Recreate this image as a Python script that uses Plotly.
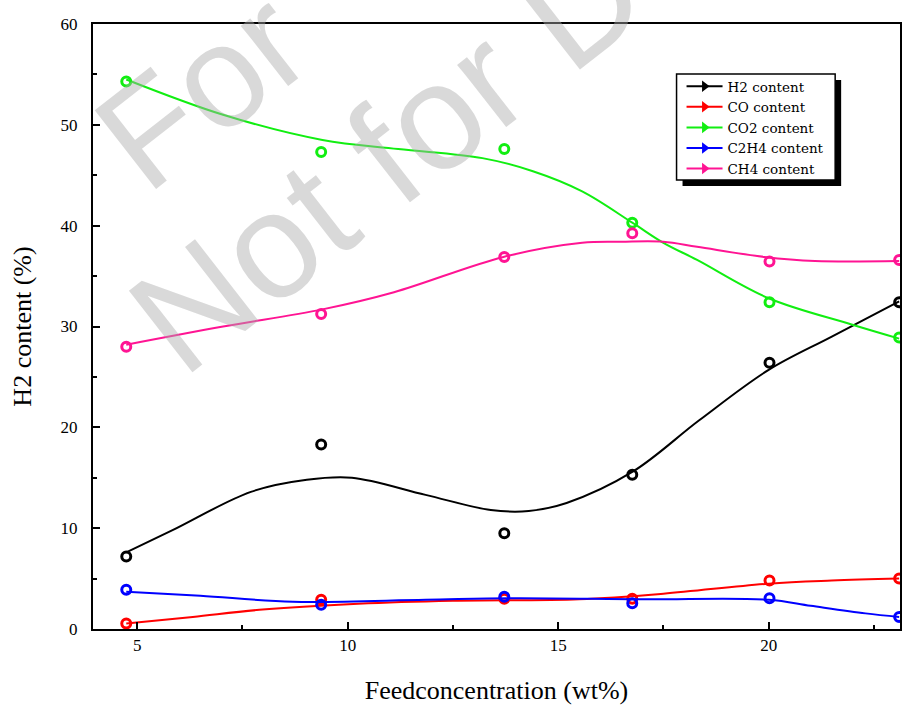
import plotly.graph_objects as go

# ---- data ----
feed_x = [4.74, 9.37, 13.72, 16.76, 20.02, 23.1]
h2_pts = [7.2, 18.3, 9.5, 15.3, 26.4, 32.4]
co_pts = [0.55, 2.9, 3.0, 3.0, 4.8, 5.0]
co2_pts = [54.3, 47.3, 47.6, 40.3, 32.4, 28.9]
c2h4_pts = [3.9, 2.4, 3.2, 2.55, 3.05, 1.2]
ch4_pts = [28.0, 31.25, 36.9, 39.25, 36.45, 36.6]

# smoothed (fitted) curves as they appear in the picture
h2_cx = [4.74, 5.84, 7.7, 9.03, 10.1, 11.85, 13.4, 14.3, 15.2, 16.77, 18.35, 20.0, 21.5, 23.1]
h2_cy = [7.6, 9.8, 13.6, 14.8, 15.0, 13.3, 11.8, 11.7, 12.5, 15.6, 20.7, 25.7, 29.0, 32.5]
co_cx = [4.74, 6.32, 7.9, 10.25, 12.5, 15.5, 17.5, 20.0, 21.5, 23.1]
co_cy = [0.55, 1.2, 1.9, 2.5, 2.8, 2.95, 3.5, 4.5, 4.8, 5.0]
co2_cx = [4.74, 7.04, 9.4, 11.2, 13.2, 14.4, 15.57, 16.76, 17.5, 18.3, 20.0, 21.97, 23.1]
co2_cy = [54.5, 51.0, 48.5, 47.6, 46.7, 45.4, 43.4, 40.3, 38.3, 36.6, 32.8, 30.2, 28.8]
c2h4_cx = [4.74, 6.5, 8.7, 11.85, 13.9, 17.0, 20.0, 21.0, 22.3, 23.1]
c2h4_cy = [3.7, 3.3, 2.7, 2.9, 3.05, 2.95, 2.9, 2.3, 1.55, 1.2]
ch4_cx = [4.74, 7.04, 9.4, 11.1, 13.7, 15.57, 16.5, 17.5, 18.3, 19.9, 21.1, 23.1]
ch4_cy = [28.2, 30.0, 31.7, 33.4, 36.9, 38.3, 38.4, 38.4, 37.9, 36.9, 36.5, 36.5]

names = ["H2 content", "CO content", "CO2 content", "C2H4 content", "CH4 content"]
colors = ["#000000", "#ff0000", "#11ee11", "#0000ff", "#ff1493"]
points = [h2_pts, co_pts, co2_pts, c2h4_pts, ch4_pts]
curves = [(h2_cx, h2_cy), (co_cx, co_cy), (co2_cx, co2_cy), (c2h4_cx, c2h4_cy), (ch4_cx, ch4_cy)]

SERIF = "Liberation Serif"
L, R, T, B, W, H = 93, 2, 24, 77, 904, 706
PW, PH = W - L - R, H - T - B


def px(xp):
    return (xp - L) / PW


def py(yp):
    return (H - B - yp) / PH


fig = go.Figure()
for name, col, pts, (cx, cy) in zip(names, colors, points, curves):
    fig.add_trace(go.Scatter(x=cx, y=cy, mode="lines", line=dict(color=col, width=2, shape="spline", smoothing=1),
                             showlegend=False, legendgroup=name, hoverinfo="skip"))
    fig.add_trace(go.Scatter(x=feed_x, y=pts, mode="markers",
                             marker=dict(symbol="circle-open", size=9, color=col, line=dict(width=3, color=col)),
                             showlegend=False, legendgroup=name))
    fig.add_trace(go.Scatter(x=[None], y=[None], mode="lines+markers", name=name, legendgroup=name,
                             line=dict(color=col, width=2),
                             marker=dict(symbol="triangle-right", size=10, color=col)))

# watermark
wm = "rgba(170,170,170,0.45)"
fig.add_annotation(text="For", x=px(202), y=py(90), xref="paper", yref="paper", showarrow=False,
                   xanchor="center", yanchor="middle",
                   textangle=-38, font=dict(family="Liberation Sans", size=145, color=wm))
fig.add_annotation(text="Not for D", x=px(388), y=py(154), xref="paper", yref="paper", showarrow=False,
                   xanchor="center", yanchor="middle",
                   textangle=-38, font=dict(family="Liberation Sans", size=150, color=wm))

# legend box with drop shadow
fig.add_shape(type="rect", xref="paper", yref="paper", x0=px(684), x1=px(843),
              y0=py(186), y1=py(80), fillcolor="black", line=dict(width=0), layer="above")
fig.add_shape(type="rect", xref="paper", yref="paper", x0=px(678), x1=px(837),
              y0=py(180), y1=py(74), fillcolor="white", line=dict(width=1.5, color="black"), layer="above")

fig.update_layout(
    width=W, height=H,
    margin=dict(l=L, r=R, t=T, b=B),
    paper_bgcolor="white", plot_bgcolor="white",
    font=dict(family=SERIF, color="black"),
    legend=dict(x=px(683), y=py(71), xanchor="left", yanchor="top",
                bgcolor="rgba(0,0,0,0)", borderwidth=0,
                font=dict(family="DejaVu Serif", size=13.5, color="black"), tracegroupgap=0,
                itemwidth=36),
    xaxis=dict(range=[3.95, 23.12], tickvals=[5, 10, 15, 20], ticks="inside", ticklen=7, tickwidth=2,
               tickcolor="black", showline=True, linewidth=2, linecolor="black", mirror=True,
               showgrid=False, zeroline=False, tickfont=dict(family=SERIF, size=17),
               minor=dict(tickvals=[7.5, 12.5, 17.5, 22.5], ticks="inside", ticklen=4, tickwidth=2, tickcolor="black"),
               title=dict(text="Feedconcentration (wt%)", font=dict(family=SERIF, size=26), standoff=26)),
    yaxis=dict(range=[0, 60], tickvals=[0, 10, 20, 30, 40, 50, 60], ticks="inside", ticklen=7, tickwidth=2,
               tickcolor="black", showline=True, linewidth=2, linecolor="black", mirror=True,
               showgrid=False, zeroline=False, tickfont=dict(family=SERIF, size=17), ticklabelstandoff=10,
               minor=dict(tickvals=[5, 15, 25, 35, 45, 55], ticks="inside", ticklen=4, tickwidth=2, tickcolor="black"),
               title=dict(text="H2 content (%)", font=dict(family=SERIF, size=26), standoff=21)),
)

fig.write_html("out.html", config={"displayModeBar": False},
               post_script="document.body.style.margin='0';")
